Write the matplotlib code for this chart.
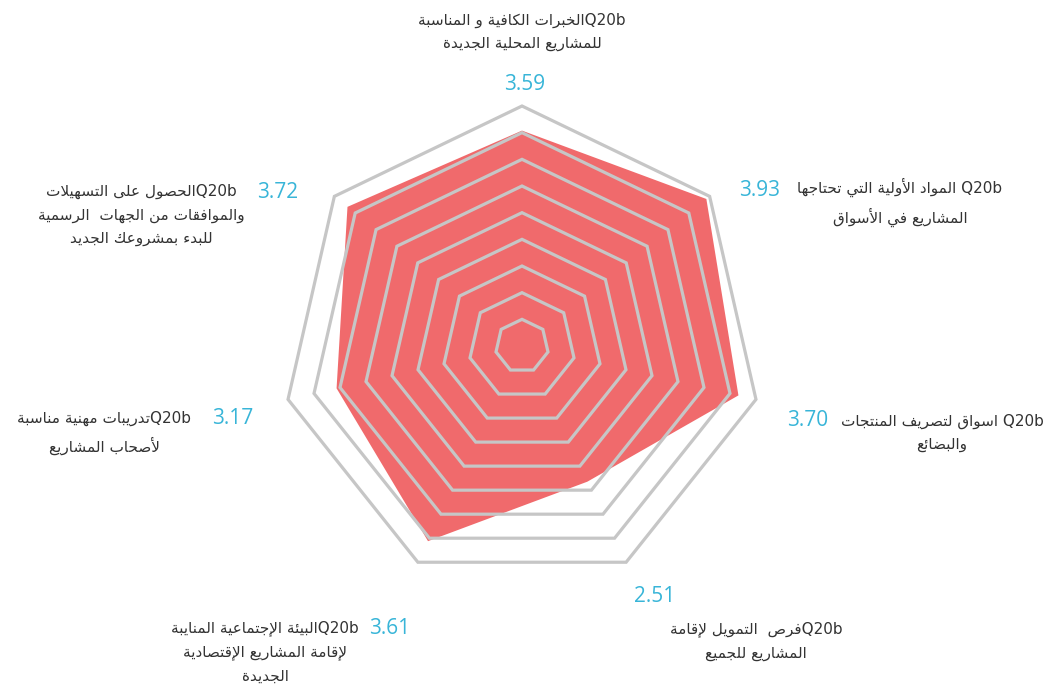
import re
import numpy as np
import matplotlib
matplotlib.use("Agg")
import matplotlib.pyplot as plt
from matplotlib.patches import Polygon

# survey items, clockwise from the top
LABELS = [
    ["Q20bالخبرات الكافية و المناسبة", "للمشاريع المحلية الجديدة"],
    ["Q20b المواد الأولية التي تحتاجها", "المشاريع في الأسواق"],
    ["Q20b اسواق لتصريف المنتجات", "والبضائع"],
    ["Q20bفرص  التمويل لإقامة", "المشاريع للجميع"],
    ["Q20bالبيئة الإجتماعية المنايبة", "لإقامة المشاريع الإقتصادية", "الجديدة"],
    ["Q20bتدريبات مهنية مناسبة", "لأصحاب المشاريع"],
    ["Q20bالحصول على التسهيلات", "والموافقات من الجهات  الرسمية", "للبدء بمشروعك الجديد"],
]
VALUES = [3.59, 3.93, 3.70, 2.51, 3.61, 3.17, 3.72]
R_MAX = 4.0
N_RINGS = 9

# where the value numbers and the item texts sit (figure pixels, from top-left)
VALUE_POS = [(525, 85), (760, 191), (808, 420), (655, 596), (390, 629), (233, 418), (278, 192)]
LABEL_POS = [(522, 32), (900, 202), (942, 433), (756, 641), (265, 652), (104, 433), (141, 215)]

W, H = 1049, 685
CX, CY = 522, 346          # centre of the web, pixels
PX_PER_UNIT = 240 / R_MAX

FILL = "#F06A6C"
GRID = "#C6C6C6"
NUM = "#38B5D8"
TXT = "#333333"

# --- minimal Arabic shaping: contextual forms + RTL ordering -----------------
_FORMS = {}
for ch, start, n in [
    ("ء", 0xFE80, 1), ("آ", 0xFE81, 2), ("أ", 0xFE83, 2), ("ؤ", 0xFE85, 2),
    ("إ", 0xFE87, 2), ("ئ", 0xFE89, 4), ("ا", 0xFE8D, 2), ("ب", 0xFE8F, 4),
    ("ة", 0xFE93, 2), ("ت", 0xFE95, 4), ("ث", 0xFE99, 4), ("ج", 0xFE9D, 4),
    ("ح", 0xFEA1, 4), ("خ", 0xFEA5, 4), ("د", 0xFEA9, 2), ("ذ", 0xFEAB, 2),
    ("ر", 0xFEAD, 2), ("ز", 0xFEAF, 2), ("س", 0xFEB1, 4), ("ش", 0xFEB5, 4),
    ("ص", 0xFEB9, 4), ("ض", 0xFEBD, 4), ("ط", 0xFEC1, 4), ("ظ", 0xFEC5, 4),
    ("ع", 0xFEC9, 4), ("غ", 0xFECD, 4), ("ف", 0xFED1, 4), ("ق", 0xFED5, 4),
    ("ك", 0xFED9, 4), ("ل", 0xFEDD, 4), ("م", 0xFEE1, 4), ("ن", 0xFEE5, 4),
    ("ه", 0xFEE9, 4), ("و", 0xFEED, 2), ("ى", 0xFEEF, 2), ("ي", 0xFEF1, 4),
]:
    _FORMS[ch] = [chr(start + k) for k in range(n)]
_LAMALEF = {"آ": 0xFEF5, "أ": 0xFEF7, "إ": 0xFEF9, "ا": 0xFEFB}


def shape(text):
    # tokens: (isolated, final, initial, medial) or None for non-letters
    toks = []
    i = 0
    while i < len(text):
        c = text[i]
        if c == "ل" and i + 1 < len(text) and text[i + 1] in _LAMALEF:
            b = _LAMALEF[text[i + 1]]
            toks.append((c, [chr(b), chr(b + 1)]))
            i += 2
            continue
        toks.append((c, _FORMS.get(c)))
        i += 1
    out = []
    for k, (c, forms) in enumerate(toks):
        if forms is None:
            out.append(c)
            continue
        prev = toks[k - 1][1] if k > 0 else None
        nxt = toks[k + 1][1] if k + 1 < len(toks) else None
        jp = prev is not None and len(prev) == 4
        jn = len(forms) == 4 and nxt is not None
        if jp and jn:
            out.append(forms[3])
        elif jp:
            out.append(forms[1])
        elif jn:
            out.append(forms[2])
        else:
            out.append(forms[0])
    return "".join(out)


def visual(text):
    runs = re.findall(r"[A-Za-z0-9.]+|[^A-Za-z0-9.]+", shape(text))
    runs = [r if re.match(r"[A-Za-z0-9.]", r) else r[::-1] for r in runs]
    return "".join(runs[::-1])


# --- figure -------------------------------------------------------------------
fig = plt.figure(figsize=(W / 100, H / 100), dpi=100)
ax = fig.add_axes([0, 0, 1, 1])
ax.set_xlim(-CX / PX_PER_UNIT, (W - CX) / PX_PER_UNIT)
ax.set_ylim(-(H - CY) / PX_PER_UNIT, CY / PX_PER_UNIT)
ax.axis("off")

n = len(VALUES)
ang = np.arange(n) * 2 * np.pi / n
ux, uy = np.sin(ang), np.cos(ang)

vals = np.array(VALUES)
ax.add_patch(Polygon(np.column_stack([ux * vals, uy * vals]), closed=True,
                     facecolor=FILL, edgecolor="none", zorder=1))

for r in np.linspace(R_MAX / N_RINGS, R_MAX, N_RINGS):
    ax.add_patch(Polygon(np.column_stack([ux * r, uy * r]), closed=True,
                         facecolor="none", edgecolor=GRID, lw=2.3,
                         joinstyle="miter", zorder=2))

for v, (px, py) in zip(VALUES, VALUE_POS):
    fig.text(px / W, 1 - py / H, f"{v:.2f}", color=NUM, fontsize=15,
             family="Open Sans", ha="center", va="center")

for lines, (px, py) in zip(LABELS, LABEL_POS):
    fig.text(px / W, 1 - py / H, "\n".join(visual(s) for s in lines),
             color=TXT, fontsize=11, family="DejaVu Sans", ha="center",
             va="center", multialignment="center", linespacing=1.7)

fig.savefig("out.png", dpi=100, facecolor="white")
